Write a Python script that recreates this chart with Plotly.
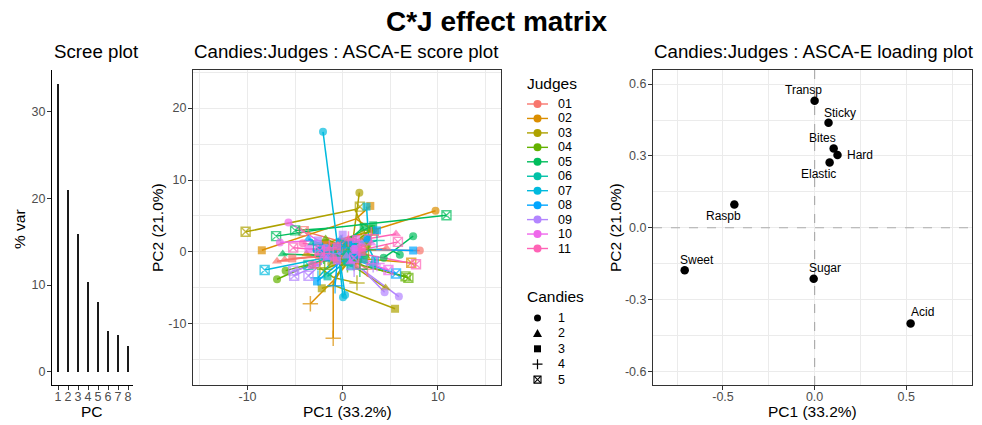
import plotly.graph_objects as go

# ---------------- data ----------------
scree_pc = [1, 2, 3, 4, 5, 6, 7, 8]
scree_var = [33.2, 21.0, 15.9, 10.3, 8.0, 4.7, 4.2, 2.95]

loading_vars = ["Transp", "Sticky", "Bites", "Hard", "Elastic", "Raspb", "Sweet", "Sugar", "Acid"]
loading_pc1 = [0.000, 0.076, 0.104, 0.125, 0.082, -0.438, -0.709, -0.005, 0.524]
loading_pc2 = [0.531, 0.439, 0.331, 0.304, 0.273, 0.097, -0.178, -0.213, -0.400]

judges = ["01", "02", "03", "04", "05", "06", "07", "08", "09", "10", "11"]
candies = ["1", "2", "3", "4", "5"]

# score data: per judge, per candy -> (effect centre, three replicate projections)
j01 = [((1.5, 0.3), [(8.1, 0.2), (-1.8, 1.2), (-2.6, -0.5)]),
       ((-2.8, -0.6), [(-6.9, -1.3), (-6.1, -1.1), (4.6, 0.5)]),
       ((-1.2, -0.6), [(-5.3, -0.9), (1.5, -1.8), (0.3, 0.8)]),
       ((0.8, -1.0), [(2.6, -2.4), (-1.4, 0.4), (1.2, -1.6)]),
       ((-0.6, 1.6), [(-4.1, 2.9), (2.2, 1.0), (-0.1, 0.8)])]
j02 = [((2.2, 2.6), [(9.75, 5.74), (-1.9, 1.2), (-1.3, 0.9)]),
       ((-1.2, -0.6), [(-3.8, -0.3), (1.4, -1.3), (-1.2, -0.2)]),
       ((1.4, 4.6), [(-8.5, 0.23), (2.9, 6.4), (3.4, 2.8)]),
       ((-1.0, -4.0), [(-3.4, -7.2), (-1.0, -12.0), (1.6, 0.2)]),
       ((1.8, -0.9), [(7.2, -1.5), (-1.6, 0.3), (0.3, -1.2)])]
j03 = [((1.1, 1.9), [(1.75, 8.24), (2.6, 1.0), (-1.2, -1.6)]),
       ((1.4, -2.2), [(4.5, -5.0), (-0.8, -1.2), (0.6, 0.2)]),
       ((-1.0, -4.6), [(-2.2, -5.05), (5.5, -7.9), (0.4, -0.6)]),
       ((-0.9, -3.6), [(1.5, -4.3), (-2.4, -2.2), (0.8, -1.0)]),
       ((1.3, 5.9), [(-10.2, 2.8), (1.8, 6.3), (2.4, 2.4)])]
j04 = [((-3.2, -1.6), [(-6.9, -3.8), (-6.0, -2.6), (2.0, -0.3)]),
       ((0.3, 0.6), [(-1.8, 1.8), (2.4, -0.6), (0.4, 1.0)]),
       ((1.2, 1.2), [(3.0, 3.2), (-1.0, 0.2), (1.6, -0.9)]),
       ((0.4, -1.1), [(-1.9, -2.4), (2.7, 0.3), (0.5, -1.8)]),
       ((2.4, -2.0), [(6.6, -3.4), (6.9, -3.6), (-2.6, 0.6)])]
j05 = [((5.3, 0.1), [(7.4, 2.2), (6.0, -0.4), (4.3, -0.8)]),
       ((-2.1, -0.5), [(-6.3, -0.3), (0.9, -1.3), (-0.8, -0.4)]),
       ((1.3, 2.4), [(3.2, 3.7), (2.2, 3.5), (-1.4, 0.3)]),
       ((0.1, -1.1), [(1.8, -2.4), (-2.0, -0.6), (0.6, -0.3)]),
       ((-1.5, 3.3), [(10.9, 5.1), (-7.0, 2.2), (-5.0, 3.0)])]
j06 = [((0.6, -0.6), [(3.2, -1.8), (-2.0, 0.6), (0.4, -1.4)]),
       ((-0.6, 0.6), [(-3.2, 1.2), (1.6, -0.2), (-0.2, 1.8)]),
       ((0.1, -1.6), [(-1.6, -3.4), (2.2, -1.0), (0.4, -0.4)]),
       ((1.1, 0.6), [(3.6, 1.6), (-1.0, -0.6), (1.4, 1.4)]),
       ((-1.1, -0.6), [(-3.6, -1.8), (0.6, 0.6), (-1.8, 0.2)])]
j07 = [((-0.6, 1.5), [(-2.07, 16.7), (0.03, -6.3), (0.25, -6.0)]),
       ((0.6, 0.6), [(2.6, 1.8), (-1.6, 0.2), (0.8, -1.2)]),
       ((2.8, 0.4), [(2.5, 6.3), (3.4, -1.2), (0.8, -2.0)]),
       ((-1.0, -1.2), [(-2.6, -3.6), (1.0, 0.6), (-1.4, -0.4)]),
       ((-2.6, -1.0), [(-8.2, -2.5), (1.0, -0.4), (-0.6, 0.4)])]
j08 = [((0.6, 0.6), [(2.6, 1.8), (-1.6, -0.8), (0.8, 1.4)]),
       ((-1.2, 0.6), [(-3.6, 1.8), (1.6, -0.6), (-1.6, 0.6)]),
       ((1.4, 0.4), [(7.4, 0.2), (-2.7, -4.1), (3.6, 3.0)]),
       ((-0.6, -1.6), [(-0.8, -4.7), (1.4, -0.4), (-2.4, 0.2)]),
       ((1.0, -1.0), [(5.6, -3.0), (-2.6, 0.6), (-0.2, 1.2)])]
j09 = [((2.2, -2.6), [(4.4, -5.6), (5.9, -6.2), (-1.8, 0.6)]),
       ((0.0, 0.0), [(2.0, 1.2), (-1.6, -0.8), (0.4, -0.6)]),
       ((-0.6, 1.0), [(-2.6, 1.6), (1.4, 0.4), (0.0, 2.4)]),
       ((1.0, -1.0), [(3.2, -1.8), (-1.0, -0.2), (1.2, -2.4)]),
       ((-2.2, -1.6), [(-5.2, -2.6), (-5.1, -3.3), (-3.6, -3.3)])]
j10 = [((-2.6, 1.6), [(-5.7, 4.1), (-6.6, 1.3), (1.2, 0.4)]),
       ((0.6, 0.0), [(3.0, 1.2), (-2.0, -0.6), (0.8, -1.4)]),
       ((-1.0, 0.6), [(-3.6, 0.4), (1.4, 1.8), (-0.6, -1.2)]),
       ((1.0, -0.6), [(3.6, -1.6), (-1.4, 0.6), (1.8, 0.2)]),
       ((1.4, -1.0), [(4.8, -2.5), (-2.4, 0.2), (1.2, -0.8)])]
j11 = [((-1.0, 0.6), [(-4.2, 1.2), (2.0, 0.6), (-1.0, -0.8)]),
       ((1.6, 1.6), [(5.6, 2.5), (-1.4, 0.4), (0.6, 1.8)]),
       ((-0.6, -0.6), [(-3.2, -1.8), (2.0, 0.0), (-0.6, 0.8)]),
       ((0.6, 1.0), [(3.0, 2.4), (-2.0, -0.2), (0.6, 1.8)]),
       ((1.0, 0.0), [(7.7, -1.7), (5.8, 1.4), (-5.2, 0.6)])]
score_groups = [j01, j02, j03, j04, j05, j06, j07, j08, j09, j10, j11]

# ---------------- style ----------------
W, H = 982, 425
FONT = "Liberation Sans, Arial, sans-serif"
judge_colors = ["#F8766D", "#DB8E00", "#AEA200", "#64B200", "#00BD5C", "#00C1A7",
                "#00BADE", "#00A6FF", "#B385FF", "#EF67EB", "#FF63B6"]
cand_symbols = ["circle", "triangle-up", "square", "cross-thin-open", "square-x-open"]
cand_sizes = [8, 9, 8, 11, 9]
cand_lw = [0, 0, 0, 1.5, 1.4]
label_offsets = {"Transp": (-11, 11), "Sticky": (11, 10), "Bites": (-11, 11), "Hard": (22, 0),
                 "Elastic": (-11, -12), "Raspb": (-11, -11), "Sweet": (12, 10), "Sugar": (11, 11),
                 "Acid": (12, 11)}
X3_RANGE = [-0.882, 0.859]
Y3_RANGE = [-0.657, 0.659]


def px(x):
    return x / W


def py(y):
    return 1 - y / H


fig = go.Figure()

# scree plot
fig.add_trace(go.Bar(x=scree_pc, y=scree_var, width=0.2, marker=dict(color="#1a1a1a", line=dict(width=0)),
                     xaxis="x", yaxis="y", showlegend=False))

# score plot: segments first, then points
for ji, groups in enumerate(score_groups):
    lx, ly = [], []
    for (cx, cy), obs in groups:
        for ox, oy in obs:
            lx += [cx, ox, None]
            ly += [cy, oy, None]
    fig.add_trace(go.Scatter(x=lx, y=ly, mode="lines", line=dict(color=judge_colors[ji], width=1.5),
                             xaxis="x2", yaxis="y2", showlegend=False, hoverinfo="skip"))
for ji, groups in enumerate(score_groups):
    mx, my, sym, siz, lw = [], [], [], [], []
    for ci, ((cx, cy), obs) in enumerate(groups):
        for ox, oy in obs:
            mx.append(ox)
            my.append(oy)
            sym.append(cand_symbols[ci])
            siz.append(cand_sizes[ci])
            lw.append(cand_lw[ci])
    fig.add_trace(go.Scatter(x=mx, y=my, mode="markers",
                             marker=dict(color=judge_colors[ji], symbol=sym, size=siz,
                                         line=dict(color=judge_colors[ji], width=lw)),
                             xaxis="x2", yaxis="y2", showlegend=False, name=judges[ji]))

# loading plot
fig.add_trace(go.Scatter(x=loading_pc1, y=loading_pc2, mode="markers",
                         marker=dict(color="black", size=8.5), xaxis="x3", yaxis="y3", showlegend=False))

ann = []
for name, lx_, ly_ in zip(loading_vars, loading_pc1, loading_pc2):
    dx, dy = label_offsets[name]
    ann.append(dict(x=lx_, y=ly_, xref="x3", yref="y3", text=name, showarrow=False,
                    xshift=dx, yshift=dy, font=dict(size=12, color="black", family=FONT)))

tickfont = dict(size=12.5, color="#4D4D4D", family=FONT)
ydom = [py(385), py(70)]


def bw_axis(dom, rng, tv, tt, minor_tv, anchor, standoff):
    return dict(domain=dom, range=rng, tickvals=tv, ticktext=tt, showgrid=True, gridcolor="#EBEBEB",
                gridwidth=1.1, zeroline=False, showline=True, mirror=True, linecolor="#333333",
                linewidth=1.1, ticks="outside", ticklen=4, tickcolor="#333333", tickwidth=1.1,
                tickfont=tickfont, anchor=anchor, ticklabelstandoff=standoff,
                minor=dict(tickvals=minor_tv, showgrid=True, gridcolor="#EBEBEB", gridwidth=0.6, ticks=""))


fig.update_layout(
    width=W, height=H, margin=dict(l=0, r=0, t=0, b=0),
    paper_bgcolor="white", plot_bgcolor="white", showlegend=False,
    bargap=0,
    xaxis=dict(domain=[px(52), px(133)], range=[0.4, 8.5], tickvals=scree_pc, showgrid=False,
               zeroline=False, showline=True, linecolor="black", linewidth=1.1, ticks="outside",
               ticklen=4, tickcolor="#333333", tickfont=tickfont, anchor="y", ticklabelstandoff=-4),
    yaxis=dict(domain=ydom, range=[-1.53, 34.8], tickvals=[0, 10, 20, 30], showgrid=False,
               zeroline=False, showline=True, linecolor="black", linewidth=1.1, ticks="outside",
               ticklen=4, tickcolor="#333333", tickfont=tickfont, anchor="x", ticklabelstandoff=-1),
    xaxis2=bw_axis([px(193), px(501)], [-15.73, 16.63], [-10, 0, 10], ["-10", "0", "10"],
                   [-15, -5, 5, 15], "y2", -4),
    yaxis2=bw_axis(ydom, [-18.5, 25.3], [-10, 0, 10, 20], ["-10", "0", "10", "20"],
                   [-15, -5, 5, 15, 25], "x2", -1),
    xaxis3=bw_axis([px(653), px(972)], X3_RANGE, [-0.5, 0, 0.5], ["-0.5", "0.0", "0.5"],
                   [-0.75, -0.25, 0.25, 0.75], "y3", -4),
    yaxis3=bw_axis(ydom, Y3_RANGE, [-0.6, -0.3, 0, 0.3, 0.6],
                   ["-0.6", "-0.3", "0.0", "0.3", "0.6"], [-0.45, -0.15, 0.15, 0.45], "x3", -1),
)

shapes = [
    dict(type="line", xref="x3", yref="y3", x0=0, x1=0, y0=Y3_RANGE[0], y1=Y3_RANGE[1],
         line=dict(color="#ADADAD", width=1.2, dash="dash"), layer="between"),
    dict(type="line", xref="x3", yref="y3", x0=X3_RANGE[0], x1=X3_RANGE[1], y0=0, y1=0,
         line=dict(color="#ADADAD", width=1.2, dash="dash"), layer="between"),
]


def t(text, x, y, size, color="black", xanchor="center", angle=0, bold=False):
    return dict(x=px(x), y=py(y), xref="paper", yref="paper", text=("<b>%s</b>" % text) if bold else text,
                showarrow=False, xanchor=xanchor, yanchor="middle", textangle=angle,
                font=dict(size=size, color=color, family=FONT))


ann += [
    t("C*J effect matrix", 496, 22, 28, bold=True),
    t("Scree plot", 52, 52, 18.7, xanchor="left"),
    t("Candies:Judges : ASCA-E score plot", 192, 52, 18.7, xanchor="left"),
    t("Candies:Judges : ASCA-E loading plot", 652, 52, 18.7, xanchor="left"),
    t("% var", 19, 229, 15.5, angle=-90),
    t("PC", 92, 411, 15.5),
    t("PC2 (21.0%)", 157, 228, 15.5, angle=-90),
    t("PC1 (33.2%)", 347, 411, 15.5),
    t("PC2 (21.0%)", 615, 228, 15.5, angle=-90),
    t("PC1 (33.2%)", 812, 411, 15.5),
]

# legends (drawn manually to match the compact ggplot key spacing)
ann.append(t("Judges", 525, 83, 15.5, xanchor="left"))
for k, (jn, col) in enumerate(zip(judges, judge_colors)):
    yy = 104 + 14.45 * k
    ann.append(t(jn, 556, yy, 12.5, xanchor="left"))
    shapes.append(dict(type="line", xref="paper", yref="paper", x0=px(527), x1=px(548), y0=py(yy), y1=py(yy),
                       line=dict(color=col, width=1.4)))
    shapes.append(dict(type="circle", xref="paper", yref="paper", x0=px(533.5), x1=px(541.5),
                       y0=py(yy + 4), y1=py(yy - 4), fillcolor=col, line=dict(width=0)))

ann.append(t("Candies", 525, 296, 15.5, xanchor="left"))
gx = 537.5
for k, cn in enumerate(candies):
    yy = 318 + 15.4 * k
    ann.append(t(cn, 556, yy, 12.5, xanchor="left"))
    if k == 0:
        shapes.append(dict(type="circle", xref="paper", yref="paper", x0=px(gx - 3.5), x1=px(gx + 3.5),
                           y0=py(yy + 3.5), y1=py(yy - 3.5), fillcolor="black", line=dict(width=0)))
    elif k == 1:
        shapes.append(dict(type="path", xref="paper", yref="paper",
                           path="M %f,%f L %f,%f L %f,%f Z" % (px(gx - 4.5), py(yy + 3.5), px(gx + 4.5),
                                                                py(yy + 3.5), px(gx), py(yy - 4.5)),
                           fillcolor="black", line=dict(width=0)))
    elif k == 2:
        shapes.append(dict(type="rect", xref="paper", yref="paper", x0=px(gx - 3.5), x1=px(gx + 3.5),
                           y0=py(yy + 3.5), y1=py(yy - 3.5), fillcolor="black", line=dict(width=0)))
    elif k == 3:
        shapes.append(dict(type="path", xref="paper", yref="paper",
                           path="M %f,%f L %f,%f M %f,%f L %f,%f" % (px(gx - 5), py(yy), px(gx + 5), py(yy),
                                                                    px(gx), py(yy - 5), px(gx), py(yy + 5)),
                           line=dict(color="black", width=1.2)))
    else:
        shapes.append(dict(type="rect", xref="paper", yref="paper", x0=px(gx - 3.5), x1=px(gx + 3.5),
                           y0=py(yy + 3.5), y1=py(yy - 3.5), line=dict(color="black", width=1.1)))
        shapes.append(dict(type="path", xref="paper", yref="paper",
                           path="M %f,%f L %f,%f M %f,%f L %f,%f" % (px(gx - 3.5), py(yy - 3.5), px(gx + 3.5),
                                                                    py(yy + 3.5), px(gx - 3.5), py(yy + 3.5),
                                                                    px(gx + 3.5), py(yy - 3.5)),
                           line=dict(color="black", width=1.1)))

fig.update_layout(annotations=ann, shapes=shapes)
fig.write_html("out.html")
